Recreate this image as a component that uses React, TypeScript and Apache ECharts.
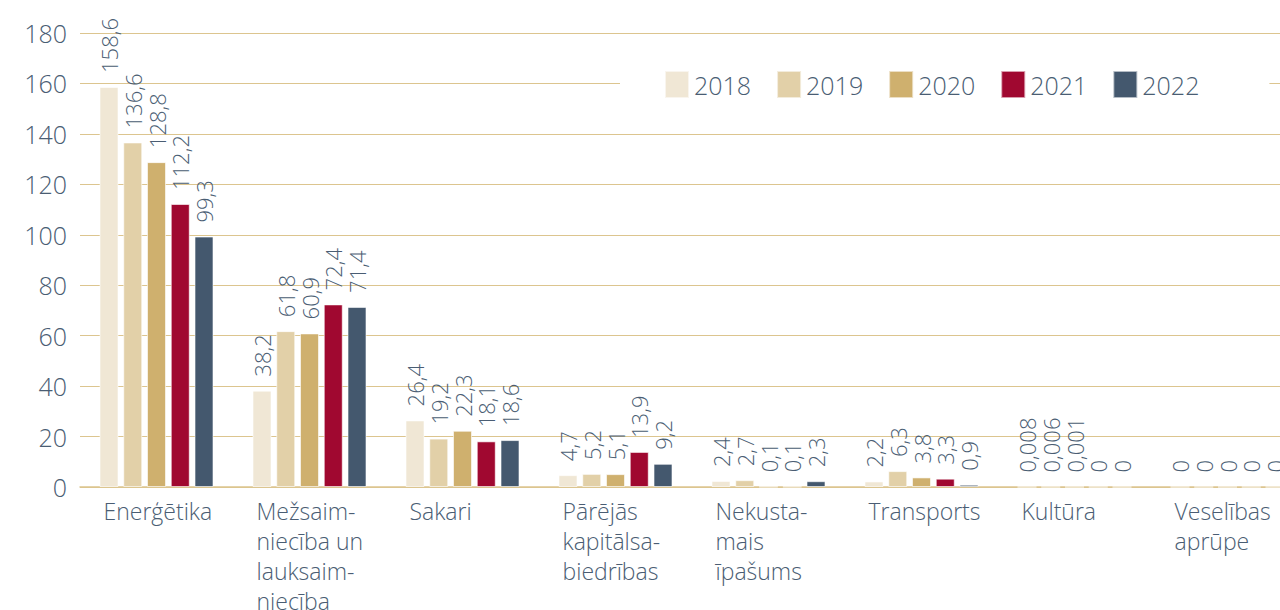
import React, { useEffect, useRef } from "react";
import * as echarts from "echarts";

const categories = [
  "Enerģētika",
  "Mežsaim-\nniecība un\nlauksaim-\nniecība",
  "Sakari",
  "Pārējās\nkapitālsa-\nbiedrības",
  "Nekusta-\nmais\nīpašums",
  "Transports",
  "Kultūra",
  "Veselības\naprūpe",
];
const years = ["2018", "2019", "2020", "2021", "2022"];
const v2018 = [158.6, 38.2, 26.4, 4.7, 2.4, 2.2, 0.008, 0];
const v2019 = [136.6, 61.8, 19.2, 5.2, 2.7, 6.3, 0.006, 0];
const v2020 = [128.8, 60.9, 22.3, 5.1, 0.1, 3.8, 0.001, 0];
const v2021 = [112.2, 72.4, 18.1, 13.9, 0.1, 3.3, 0, 0];
const v2022 = [99.3, 71.4, 18.6, 9.2, 2.3, 0.9, 0, 0];
const colors = ["#f0e7d5", "#e2d0a8", "#cfb06e", "#a00830", "#44586e"];

const textColor = "#4a5d73";
const gridColor = "#dcc58f";
const font = "Open Sans";

export default function App() {
  const ref = useRef<HTMLDivElement>(null);
  useEffect(() => {
    if (!ref.current) return;
    const chart = echarts.init(ref.current, undefined, { renderer: "svg" });
    const seriesData = [v2018, v2019, v2020, v2021, v2022];
    chart.setOption({
      animation: false,
      grid: { left: 80, right: -24, top: 33, bottom: 123, containLabel: false, outerBoundsMode: "none" },
      legend: {
        left: 620,
        top: 59,
        padding: [11, 70, 11, 44],
        backgroundColor: "#ffffff",
        itemWidth: 24,
        itemHeight: 27,
        itemGap: 25,
        icon: "rect",
        textStyle: { color: textColor, fontSize: 25, fontFamily: font, fontWeight: 300 },
        data: years,
      },
      xAxis: {
        type: "category",
        data: categories,
        axisLine: { show: true, lineStyle: { color: gridColor, width: 1.5 } },
        axisTick: { show: false },
        axisLabel: {
          interval: 0,
          align: "left",
          verticalAlign: "top",
          margin: 9,
          padding: [0, 0, 0, -53],
          color: textColor,
          fontSize: 23,
          lineHeight: 30,
          fontFamily: font,
          fontWeight: 300,
        },
      },
      yAxis: {
        type: "value",
        min: 0,
        max: 180,
        interval: 20,
        axisLine: { show: false },
        axisTick: { show: false },
        splitLine: { lineStyle: { color: gridColor, width: 1 } },
        axisLabel: {
          margin: 13,
          color: textColor,
          fontSize: 25,
          fontFamily: font,
          fontWeight: 300,
        },
      },
      series: years.map((y, i) => ({
        name: y,
        type: "bar",
        data: seriesData[i],
        barWidth: 19,
        barGap: "25%",
        itemStyle: { color: colors[i], borderColor: "rgba(255,255,255,0.6)", borderWidth: 1 },
        label: {
          show: true,
          position: "top",
          rotate: 90,
          align: "left",
          verticalAlign: "middle",
          distance: 14,
          color: textColor,
          fontSize: 22,
          fontFamily: font,
          fontWeight: 300,
          formatter: (p: any) => String(p.value).replace(".", ","),
        },
      })),
    });
    return () => chart.dispose();
  }, []);
  return (
    <div
      ref={ref}
      style={{ position: "fixed", left: 0, top: 0, width: 1280, height: 610, background: "#fff" }}
    />
  );
}
